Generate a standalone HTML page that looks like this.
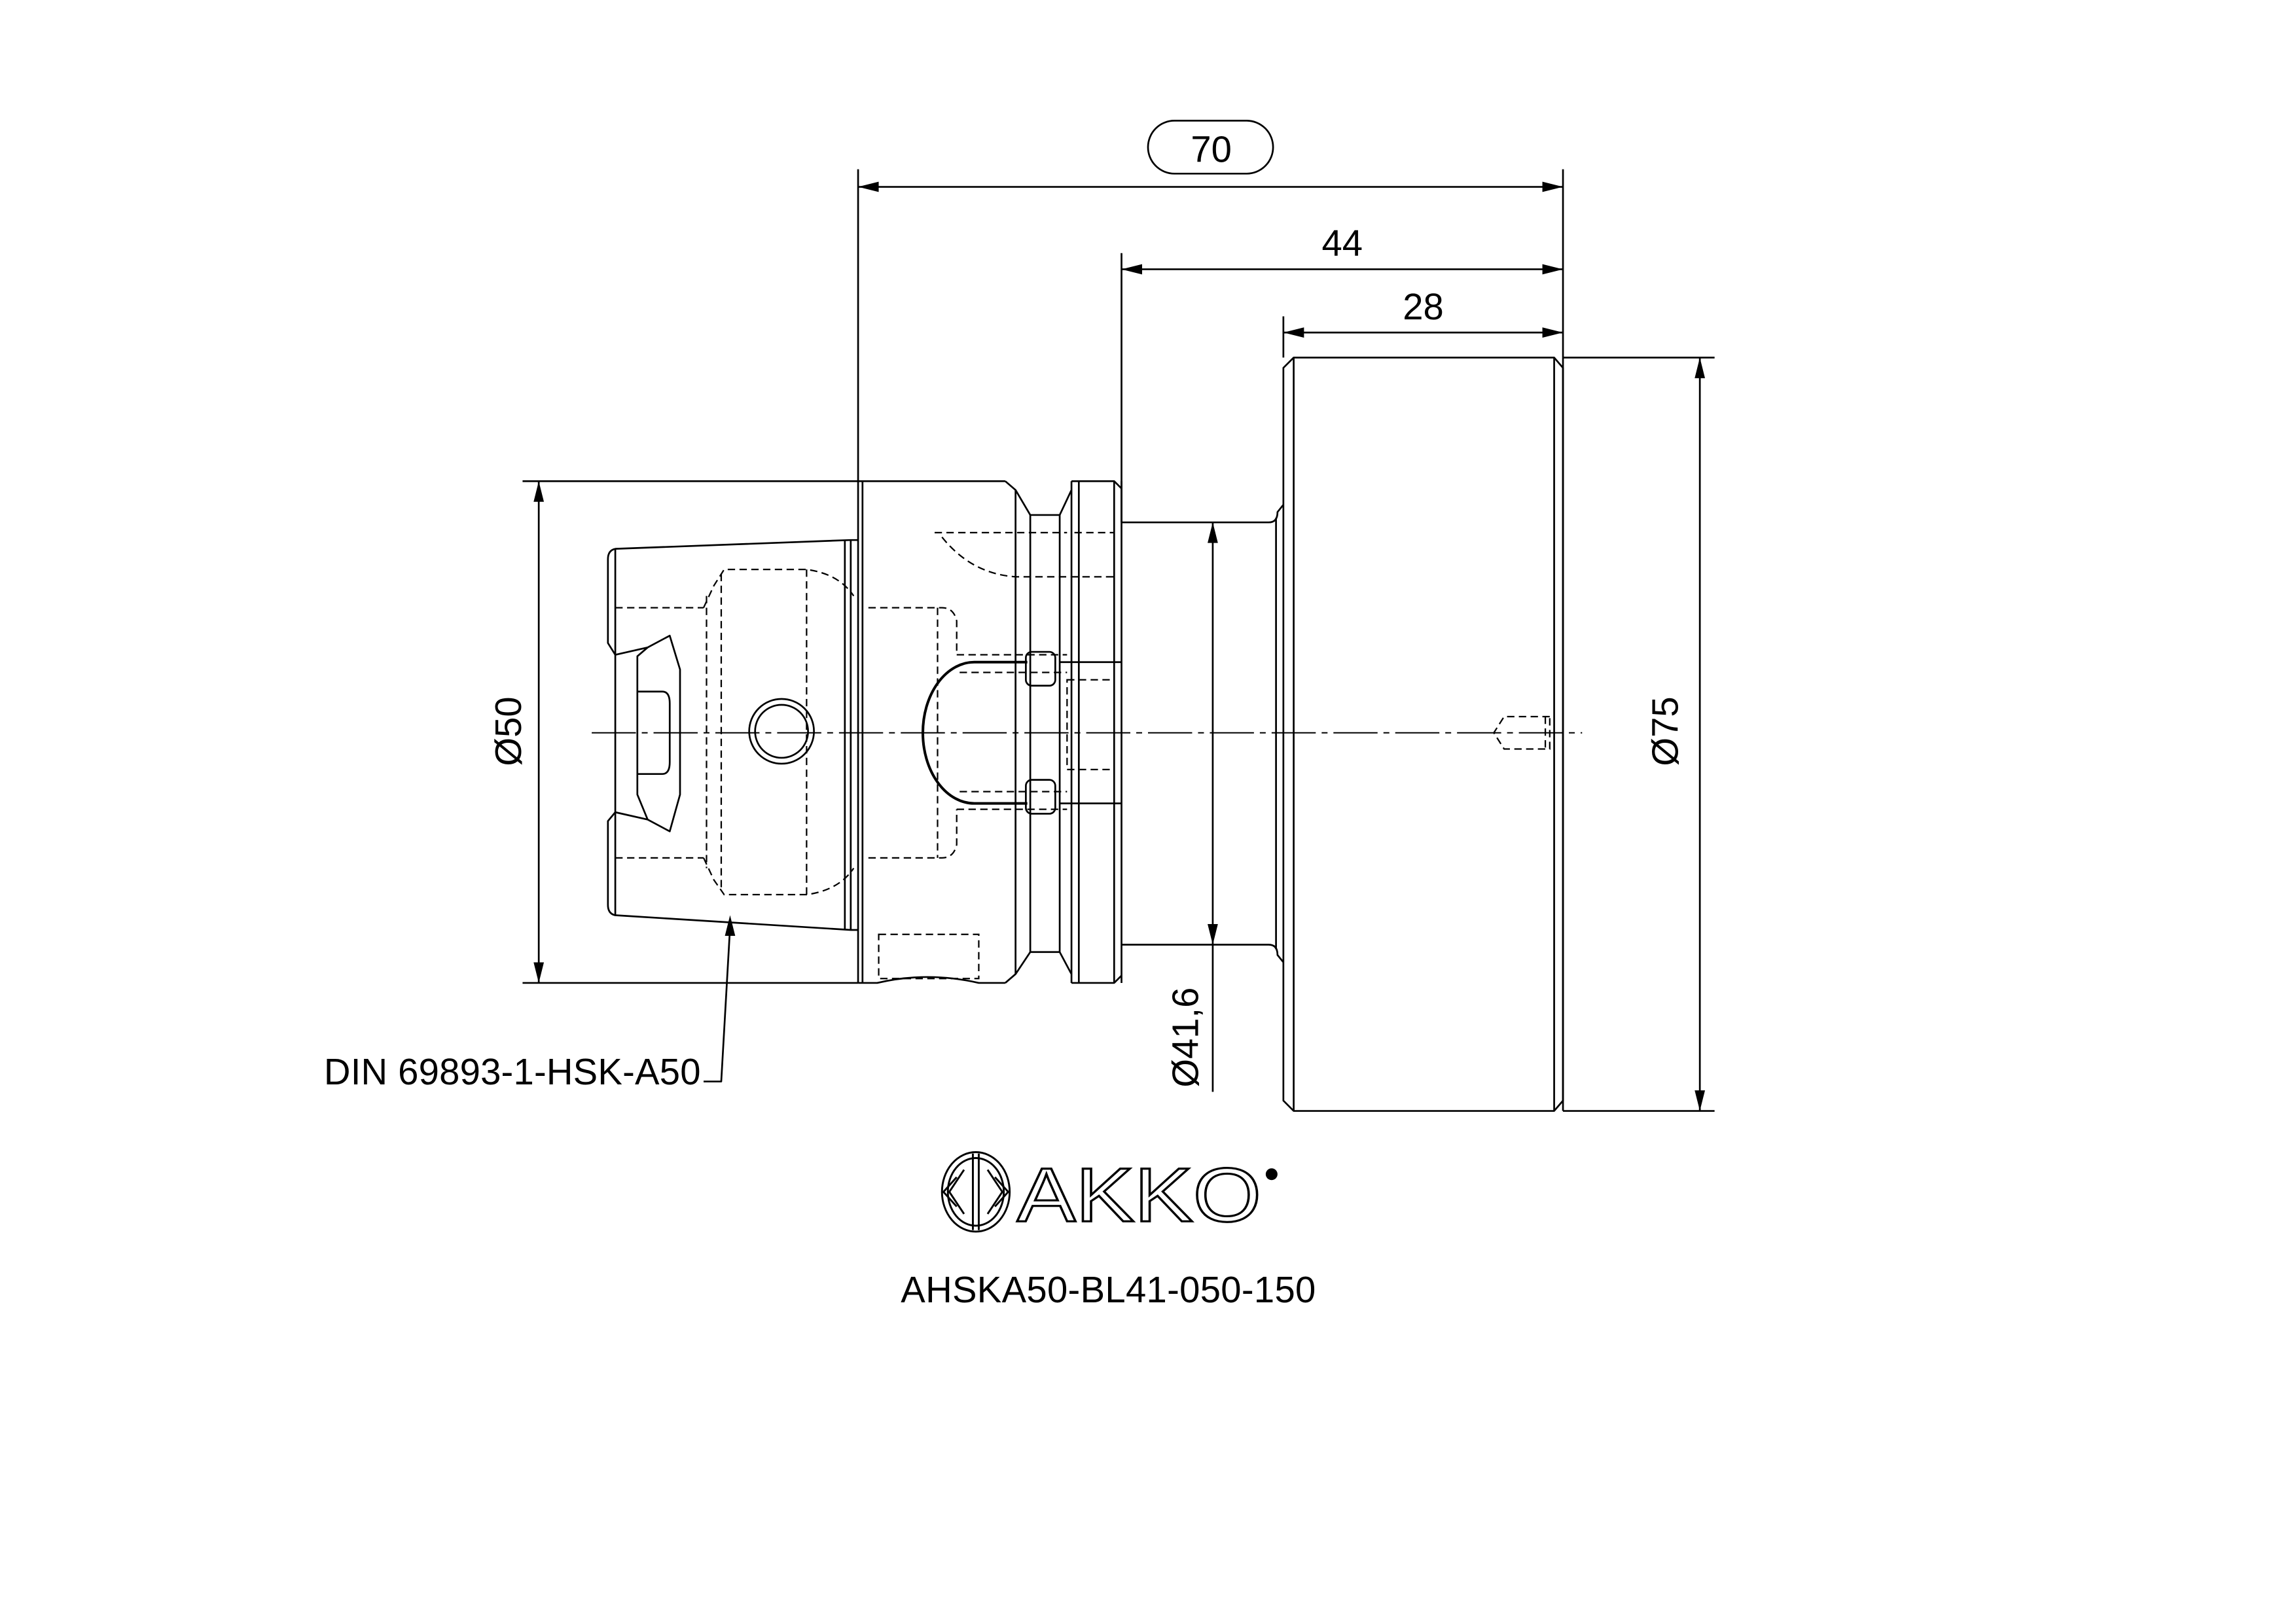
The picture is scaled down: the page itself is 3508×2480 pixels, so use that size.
<!DOCTYPE html>
<html><head><meta charset="utf-8"><style>html,body{margin:0;padding:0;background:#fff}svg{display:block}</style></head>
<body>
<svg width="3508" height="2480" viewBox="0 0 1560 1103" xmlns="http://www.w3.org/2000/svg" font-family="Liberation Sans, sans-serif">
<rect width="1560" height="1103" fill="#fff"/>
<g fill="none" stroke="#000" stroke-width="1.2" stroke-linejoin="round">
<line x1="583" y1="115" x2="583" y2="668"/>
<line x1="762" y1="172" x2="762" y2="355"/>
<line x1="872" y1="215" x2="872" y2="243"/>
<line x1="1062" y1="115" x2="1062" y2="755"/>
<line x1="355" y1="327" x2="583" y2="327"/>
<line x1="355" y1="668" x2="583" y2="668"/>
<line x1="1062" y1="243" x2="1165" y2="243"/>
<line x1="1062" y1="755" x2="1165" y2="755"/>
<line x1="583" y1="127" x2="1062" y2="127"/>
<line x1="762" y1="183" x2="1062" y2="183"/>
<line x1="872" y1="226" x2="1062" y2="226"/>
<line x1="366" y1="327" x2="366" y2="668"/>
<line x1="1155" y1="243" x2="1155" y2="755"/>
<line x1="824" y1="355" x2="824" y2="742"/>
<rect x="780" y="82" width="85" height="36" rx="18"/>
<polyline points="478,735 490,735 496,630"/>

<path d="M872,250 L879,243 L1056,243 L1062,250 L1062,748 L1056,755 L879,755 L872,748 Z"/>
<line x1="879" y1="243" x2="879" y2="755"/>
<line x1="1056" y1="243" x2="1056" y2="755"/>
<path d="M762,355 L862,355 Q868,355 868,348 L872,343"/>
<path d="M762,642 L862,642 Q868,642 868,649 L872,654"/>
<line x1="867" y1="352" x2="867" y2="645"/>
<line x1="762" y1="327" x2="762" y2="668"/>
<path d="M728,327 L757,327 L762,332 M728,668 L757,668 L762,663"/>
<line x1="733" y1="327" x2="733" y2="668"/>
<line x1="757" y1="327" x2="757" y2="668"/>
<path d="M683,327 L690,333 L700,350 L720,350 L728,333 L728,327"/>
<path d="M683,668 L690,662 L700,647 L720,647 L728,662 L728,668"/>
<line x1="690" y1="333" x2="690" y2="662"/>
<line x1="700" y1="350" x2="700" y2="647"/>
<line x1="720" y1="350" x2="720" y2="647"/>
<line x1="728" y1="333" x2="728" y2="662"/>
<line x1="583" y1="327" x2="683" y2="327"/>
<path d="M583,668 L596,668 Q630,660 665,668 L683,668"/>
<line x1="586" y1="327" x2="586" y2="668"/>
<path d="M583,367 L578,367 L418,373 Q413,374 413,380 L413,437 L418,445 L440,440 L455,432 L462,455 L462,540 L455,565 L440,557 L418,552 L413,558 L413,615 Q413,621 418,622 L578,632 L583,632"/>
<line x1="574" y1="367" x2="574" y2="632"/>
<line x1="578" y1="367" x2="578" y2="632"/>
<line x1="418" y1="373" x2="418" y2="622"/>
<path d="M440,440 L433,446 L433,540 L440,557"/>
<path d="M433,470 L450,470 Q455,470 455,478 L455,518 Q455,526 450,526 L433,526"/>
<circle cx="531" cy="497" r="22"/>
<circle cx="531" cy="497" r="18"/>
<path d="M698,450 L662,450 A35,48 0 0 0 662,546 L698,546" stroke-width="1.8"/>
<line x1="720" y1="450" x2="762" y2="450"/>
<line x1="720" y1="546" x2="762" y2="546"/>
<rect x="697" y="443" width="20" height="23" rx="4"/>
<rect x="697" y="530" width="20" height="23" rx="4"/>
</g>
<g fill="none" stroke="#000" stroke-width="1" stroke-dasharray="5,3">
<line x1="418" y1="413" x2="478" y2="413"/>
<line x1="418" y1="583" x2="478" y2="583"/>
<path d="M478,413 L485,398 L492,387 L548,387 Q570,390 580,405"/>
<path d="M478,583 L485,598 L492,608 L548,608 Q570,605 580,590"/>
<line x1="480" y1="405" x2="480" y2="590"/>
<line x1="490" y1="390" x2="490" y2="606"/>
<line x1="548" y1="387" x2="548" y2="608"/>
<path d="M590,413 L640,413 Q648,413 650,422 L650,445"/>
<path d="M590,583 L640,583 Q648,583 650,574 L650,550"/>
<line x1="637" y1="413" x2="637" y2="583"/>
<line x1="650" y1="445" x2="725" y2="445"/>
<line x1="650" y1="550" x2="725" y2="550"/>
<path d="M635,362 L725,362 M640,365 Q660,390 690,392 L757,392 M730,362 L757,362"/>
<rect x="725" y="462" width="32" height="61"/>
<path d="M652,457 L725,457 M652,538 L725,538"/>
<rect x="597" y="635" width="68" height="30"/>
<path d="M1053,487 L1022,487 L1015,498 L1022,509 L1053,509 Z"/>
<line x1="1050" y1="487" x2="1050" y2="509"/>
</g>
<line x1="402" y1="498" x2="1075" y2="498" stroke="#000" stroke-width="0.9" stroke-dasharray="30,4,4,4"/>
<g fill="#000">
<polygon points="583,127 597,123.5 597,130.5"/>
<polygon points="1062,127 1048,123.5 1048,130.5"/>
<polygon points="762,183 776,179.5 776,186.5"/>
<polygon points="1062,183 1048,179.5 1048,186.5"/>
<polygon points="872,226 886,222.5 886,229.5"/>
<polygon points="1062,226 1048,222.5 1048,229.5"/>
<polygon points="366,327 362.5,341 369.5,341"/>
<polygon points="366,668 362.5,654 369.5,654"/>
<polygon points="1155,243 1151.5,257 1158.5,257"/>
<polygon points="1155,755 1151.5,741 1158.5,741"/>
<polygon points="824,355 820.5,369 827.5,369"/>
<polygon points="824,642 820.5,628 827.5,628"/>
<polygon points="496,622 492.5,636 499.5,636"/>
</g>
<g fill="#000" font-size="25">
<text x="823" y="110" text-anchor="middle">70</text>
<text x="912" y="174" text-anchor="middle">44</text>
<text x="967" y="217" text-anchor="middle">28</text>
<text transform="translate(354,497) rotate(-90)" text-anchor="middle">Ø50</text>
<text transform="translate(1140,497) rotate(-90)" text-anchor="middle">Ø75</text>
<text transform="translate(814,705) rotate(-90)" text-anchor="middle">Ø41,6</text>
<text x="220" y="737" textLength="256">DIN 69893-1-HSK-A50</text>
<text x="612" y="885" textLength="282">AHSKA50-BL41-050-150</text>
</g>
<g fill="none" stroke="#000" stroke-width="1.3">
<ellipse cx="663" cy="810" rx="23" ry="27"/>
<ellipse cx="663" cy="810" rx="19" ry="23"/>
<line x1="661" y1="784" x2="661" y2="836"/>
<line x1="665" y1="784" x2="665" y2="836"/>
<path d="M650,800 L641,810 L650,820 M676,800 L685,810 L676,820 M655,795 L645,810 L655,825 M671,795 L681,810 L671,825"/>
</g>
<text x="691" y="830" font-size="52" fill="#fff" stroke="#000" stroke-width="1.4" textLength="166" lengthAdjust="spacingAndGlyphs">AKKO</text>
<circle cx="864" cy="798" r="4" fill="#000"/>
</svg>
</body></html>
